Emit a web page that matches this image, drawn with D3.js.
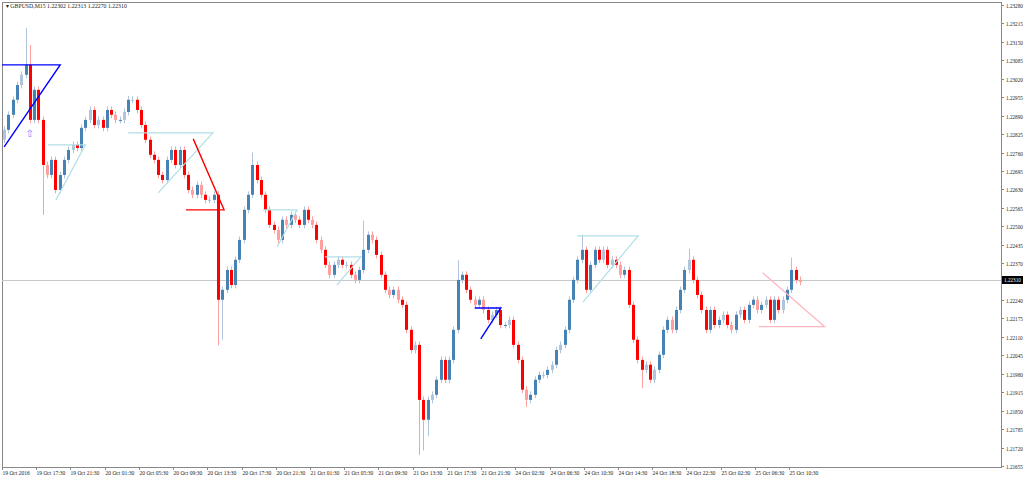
<!DOCTYPE html>
<html><head><meta charset="utf-8">
<script src="https://cdn.jsdelivr.net/npm/d3@7"></script>
<style>body{margin:0;background:#fff}svg{display:block;font-family:"Liberation Serif","DejaVu Serif",serif}</style>
</head><body><svg id="c" width="1024" height="479"></svg>
<script>
const closes=[1.22840,1.22893,1.22946,1.22998,1.23034,1.23069,1.22875,1.22981,1.22875,1.22716,
1.22681,1.22734,1.22628,1.22681,1.22734,1.22769,1.22787,1.22776,1.22847,1.22875,
1.22910,1.22857,1.22875,1.22847,1.22910,1.22893,1.22875,1.22875,1.22903,1.22946,
1.22946,1.22910,1.22857,1.22805,1.22752,1.22734,1.22681,1.22663,1.22734,1.22769,
1.22716,1.22769,1.22681,1.22628,1.22611,1.22646,1.22611,1.22593,1.22593,1.22611,
1.22241,1.22276,1.22346,1.22293,1.22382,1.22452,1.22558,1.22611,1.22716,1.22663,
1.22611,1.22558,1.22505,1.22487,1.22452,1.22523,1.22505,1.22540,1.22523,1.22505,
1.22558,1.22523,1.22505,1.22452,1.22417,1.22364,1.22329,1.22364,1.22382,1.22364,
1.22364,1.22329,1.22311,1.22346,1.22417,1.22470,1.22452,1.22399,1.22329,1.22276,
1.22258,1.22276,1.22241,1.22223,1.22135,1.22064,1.22082,1.21888,1.21818,1.21888,
1.21906,1.21959,1.22029,1.21959,1.22029,1.22135,1.22311,1.22329,1.22276,1.22241,
1.22223,1.22241,1.22205,1.22170,1.22188,1.22205,1.22152,1.22152,1.22170,1.22082,
1.22029,1.21924,1.21888,1.21906,1.21959,1.21976,1.21976,1.21994,1.22012,1.22064,
1.22082,1.22135,1.22241,1.22311,1.22382,1.22417,1.22276,1.22364,1.22417,1.22382,
1.22417,1.22364,1.22382,1.22364,1.22329,1.22346,1.22223,1.22100,1.22029,1.21994,
1.22012,1.21959,1.21994,1.22047,1.22135,1.22170,1.22135,1.22205,1.22276,1.22346,
1.22382,1.22311,1.22258,1.22205,1.22135,1.22205,1.22152,1.22170,1.22188,1.22152,
1.22135,1.22188,1.22205,1.22170,1.22223,1.22241,1.22205,1.22223,1.22241,1.22170,
1.22241,1.22205,1.22241,1.22276,1.22346,1.22311,1.22304];
const firstOpen=1.22805;
const spikeIdx=[5,6,9,29,50,51,58,84,97,98,99,106,122,135,149,160,184];
const spikeHigh=[1.23199,1.23139,null,1.22960,null,null,1.22760,1.22520,null,null,null,1.22380,null,1.22470,null,1.22420,1.22390];
const spikeLow=[null,null,1.22540,null,1.22080,1.22100,null,null,1.21694,1.21710,1.21760,null,1.21863,null,1.21930,null,null];
const tickLabels=["19 Oct 2016","19 Oct 17:30","19 Oct 21:30","20 Oct 01:30","20 Oct 05:30","20 Oct 09:30","20 Oct 13:30","20 Oct 17:30","20 Oct 21:30","21 Oct 01:30","21 Oct 05:30","21 Oct 09:30","21 Oct 13:30","21 Oct 17:30","21 Oct 21:30","24 Oct 02:30","24 Oct 06:30","24 Oct 10:30","24 Oct 14:30","24 Oct 18:30","24 Oct 22:30","25 Oct 02:30","25 Oct 06:30","25 Oct 10:30"];
const yTicks=[1.23280,1.23215,1.23150,1.23085,1.23020,1.22955,1.22890,1.22825,1.22760,1.22695,1.22630,1.22565,1.22500,1.22435,1.22370,1.22240,1.22175,1.22110,1.22045,1.21980,1.21915,1.21850,1.21785,1.21720,1.21655];
const lastPrice=1.22310;
const patterns=[
 {c:"#0000ff",w:1.4,pts:[[-0.5,1.23069],[13.1,1.23069],[0,1.22780]]},
 {c:"#b0e0e6",w:1.2,pts:[[10.3,1.22787],[19,1.22787],[12.1,1.22593]]},
 {c:"#b0e0e6",w:1.2,pts:[[29,1.22829],[48.8,1.22829],[36,1.22618]]},
 {c:"#ff0000",w:1.4,pts:[[44.2,1.22808],[51.4,1.22558],[42.5,1.22558]]},
 {c:"#b0e0e6",w:1.2,pts:[[60.5,1.22558],[68.5,1.22558],[63.8,1.22428]]},
 {c:"#b0e0e6",w:1.2,pts:[[75,1.22392],[83.4,1.22392],[77.8,1.22293]]},
 {c:"#0000ff",w:1.4,pts:[[110,1.22212],[116.1,1.22212],[111.4,1.22103]]},
 {c:"#b0e0e6",w:1.2,pts:[[133.9,1.22466],[148.2,1.22466],[135.3,1.22233]]},
 {c:"#ffb6c1",w:1.2,pts:[[177.3,1.22336],[191.8,1.22146],[176.4,1.22146]]}
];
const svg=d3.select("#c");
const L=2,R=1001,T=2,B=467;
const x=d3.scaleLinear().domain([-0.5,186.5]).range([L,802]);
const y=d3.scaleLinear().domain([1.23280,1.21655]).range([5,466]);
svg.append("rect").attr("x",L+0.5).attr("y",T+0.5).attr("width",R-L).attr("height",B-T).attr("fill","#fff").attr("stroke","#888");
svg.append("line").attr("x1",L).attr("x2",R).attr("y1",Math.round(y(lastPrice))+0.5).attr("y2",Math.round(y(lastPrice))+0.5).attr("stroke","#c8c8c8");
const data=closes.map((c,i)=>{const o=i?closes[i-1]:firstOpen;let h=Math.max(o,c)+0.00012,l=Math.min(o,c)-0.00012;
 const k=spikeIdx.indexOf(i);if(k>=0){if(spikeHigh[k])h=spikeHigh[k];if(spikeLow[k])l=spikeLow[k];}return{i,o,c,h,l};});
const g=svg.append("g");
data.forEach(d=>{const up=d.c>=d.o;const big=Math.abs(d.c-d.o)>0.0004;
 const dark=up?"#4682b4":"#ff0000",light=up?"#b0c4de":"#ffa0a0";
 const cx=Math.round(x(d.i))+0.5;
 g.append("line").attr("x1",cx).attr("x2",cx).attr("y1",y(d.h)).attr("y2",y(d.l)).attr("stroke",light).attr("stroke-width",1);
 const y0=y(Math.max(d.o,d.c)),y1=y(Math.min(d.o,d.c));
 g.append("rect").attr("x",cx-1.5).attr("width",3).attr("y",y0).attr("height",Math.max(1,y1-y0)).attr("fill",big?dark:(d.i%2?dark:light));
});
const line=d3.line().x(p=>x(p[0])).y(p=>y(p[1]));
patterns.forEach(p=>svg.append("path").attr("d",line(p.pts)).attr("fill","none").attr("stroke",p.c).attr("stroke-width",p.w));
svg.append("text").attr("x",x(6)).attr("y",y(1.22815)).attr("font-size",10).attr("fill","#8080ff").attr("font-family","DejaVu Sans").attr("text-anchor","middle").text("⇧");
yTicks.forEach(v=>{const yy=Math.round(y(v))+0.5;
 svg.append("line").attr("x1",R).attr("x2",R+3).attr("y1",yy).attr("y2",yy).attr("stroke","#888");
 svg.append("text").attr("x",R+5).attr("y",yy+2).attr("font-size",5.2).attr("fill","#222").text(v.toFixed(5));});
const ly=Math.round(y(lastPrice));
svg.append("rect").attr("x",R+1).attr("y",ly-4).attr("width",21).attr("height",8).attr("fill","#000");
svg.append("text").attr("x",R+3).attr("y",ly+2).attr("font-size",5.2).attr("fill","#fff").text(lastPrice.toFixed(5));
tickLabels.forEach((t,k)=>{const xx=Math.round(x(-0.5+8*k))+0.5;
 svg.append("line").attr("x1",xx).attr("x2",xx).attr("y1",B).attr("y2",B+3).attr("stroke","#888");
 svg.append("text").attr("x",xx).attr("y",B+8).attr("font-size",5.5).attr("fill","#222").text(t);});
svg.append("text").attr("x",6).attr("y",8).attr("font-size",5.8).attr("fill","#222").text("▾ GBPUSD,M15  1.22302 1.22313 1.22270 1.22310");
</script></body></html>
